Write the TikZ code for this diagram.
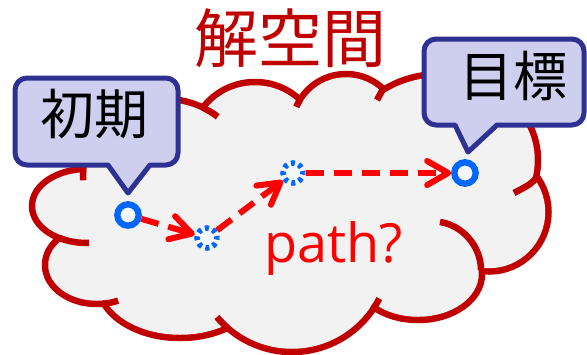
\documentclass[tikz,border=0pt]{standalone}
\usepackage{fontspec}
\newfontfamily\jp{Noto Sans CJK JP}
\newfontfamily\lat{Open Sans}
\usetikzlibrary{arrows.meta}
\definecolor{cloudred}{RGB}{192,0,0}
\definecolor{cloudfill}{RGB}{242,242,242}
\definecolor{callfill}{RGB}{206,206,238}
\definecolor{callline}{RGB}{46,49,146}
\definecolor{ptblue}{RGB}{0,102,255}
\definecolor{ptfill}{RGB}{245,248,250}
\definecolor{pathred}{RGB}{255,0,0}
\begin{document}
\begin{tikzpicture}[x=1pt,y=-1pt,
  puffline/.style={draw=cloudred,line width=13pt},
  crease/.style={draw=cloudred,line width=6.5pt},
  callout/.style={draw=callline,fill=callfill,line width=5pt,line join=round},
  solidpt/.style={circle,draw=ptblue,fill=ptfill,line width=6.3pt,minimum size=21.4pt,inner sep=0pt},
  dotpt/.style={circle,draw=ptblue,fill=ptfill,line width=5.5pt,minimum size=20pt,inner sep=0pt,dash pattern=on 4pt off 3.85pt,dash phase=2pt},
  patharrow/.style={draw=pathred,line width=6pt,dash pattern=on 18pt off 10pt,-{Straight Barb[length=21pt,width=24pt,round]}},
  jplabel/.style={font=\jp\fontsize{54}{54}\selectfont,inner sep=0pt}
]
\useasboundingbox (0,0) rectangle (587,354);
\def\puffs{87/206/51.75/33.75, 97/265/48.75/35.75, 180/282/79.25/52.75, 292/254/94.75/94.75, 418/274/60.75/42.75, 489/212/56.25/56.25, 440/160/94.75/82.75, 346/128/50.75/50.75, 255/148/62.75/62.75, 165/175/78.75/72.75}
% cloud outline (outer half of a wide stroke stays visible)
\foreach \cx/\cy/\rx/\ry in \puffs
  \draw[puffline] (\cx,\cy) ellipse[x radius=\rx pt, y radius=\ry pt];
\foreach \cx/\cy/\rx/\ry in \puffs
  \fill[cloudfill] (\cx,\cy) ellipse[x radius=\rx pt, y radius=\ry pt];
\fill[cloudfill] (87,206) -- (165,175) -- (255,148) -- (346,128) -- (440,160) -- (489,212) -- (418,274) -- (292,254) -- (180,282) -- (97,265) -- cycle;
% creases
\draw[crease] (165,175) ++(176:82pt and 76pt) arc[start angle=176,end angle=184,x radius=82pt,y radius=76pt];
\draw[crease] (87,206) ++(240.6:55pt and 37pt) arc[start angle=240.6,end angle=272,x radius=55pt,y radius=37pt];
\draw[crease] (97,265) ++(276.6:52pt and 39pt) arc[start angle=276.6,end angle=294,x radius=52pt,y radius=39pt];
\draw[crease] (292,254) ++(228.7:98pt) arc[start angle=228.7,end angle=220,radius=98pt];
\draw[crease] (292,254) ++(-34.7:98pt) arc[start angle=-34.7,end angle=-27,radius=98pt];
\draw[crease] (481,270) .. controls (481,246) and (462,225) .. (440,222);
\draw[crease] (537,177) .. controls (531,184) .. (514,193);
\draw[crease] (383,89) .. controls (380,94) .. (377,100);
\draw[crease] (346,128) ++(148.7:54pt) arc[start angle=148.7,end angle=157,radius=54pt];
\draw[crease] (165,175) ++(62.6:82pt and 76pt) arc[start angle=62.6,end angle=50,x radius=82pt,y radius=76pt];
% title
\node[text=cloudred,font=\jp\fontsize{64}{64}\selectfont,inner sep=0pt] (title) at (290,38.5) {解空間};
% callouts
\draw[callout] (27,78) -- (166,78) arc[start angle=90,end angle=0,radius=12pt] -- (178,153) arc[start angle=0,end angle=-90,radius=12pt] -- (150,165) -- (128,193) -- (108,165) -- (27,165) arc[start angle=-90,end angle=-180,radius=12pt] -- (15,90) arc[start angle=180,end angle=90,radius=12pt] -- cycle;
\node[jplabel] (initlabel) at (95,114) {初期};
\draw[callout] (436,39) -- (572,39) arc[start angle=90,end angle=0,radius=12pt] -- (584,113) arc[start angle=0,end angle=-90,radius=12pt] -- (497,125) -- (468,152) -- (455,125) -- (436,125) arc[start angle=-90,end angle=-180,radius=12pt] -- (424,51) arc[start angle=180,end angle=90,radius=12pt] -- cycle;
\node[jplabel] (goallabel) at (513,76) {目標};
% points and path
\node[solidpt] (s) at (128,215) {};
\node[dotpt] (m1) at (207,238) {};
\node[dotpt] (m2) at (293,173) {};
\node[solidpt] (g) at (465,173) {};
\draw[patharrow] (s) -- (m1);
\draw[patharrow] (m1) -- (m2);
\draw[patharrow] (m2) -- (g);
\node[text=pathred,font=\lat\fontsize{54}{54}\selectfont,anchor=base west,inner sep=0pt] (q) at (264,262) {path?};
\end{tikzpicture}
\end{document}
